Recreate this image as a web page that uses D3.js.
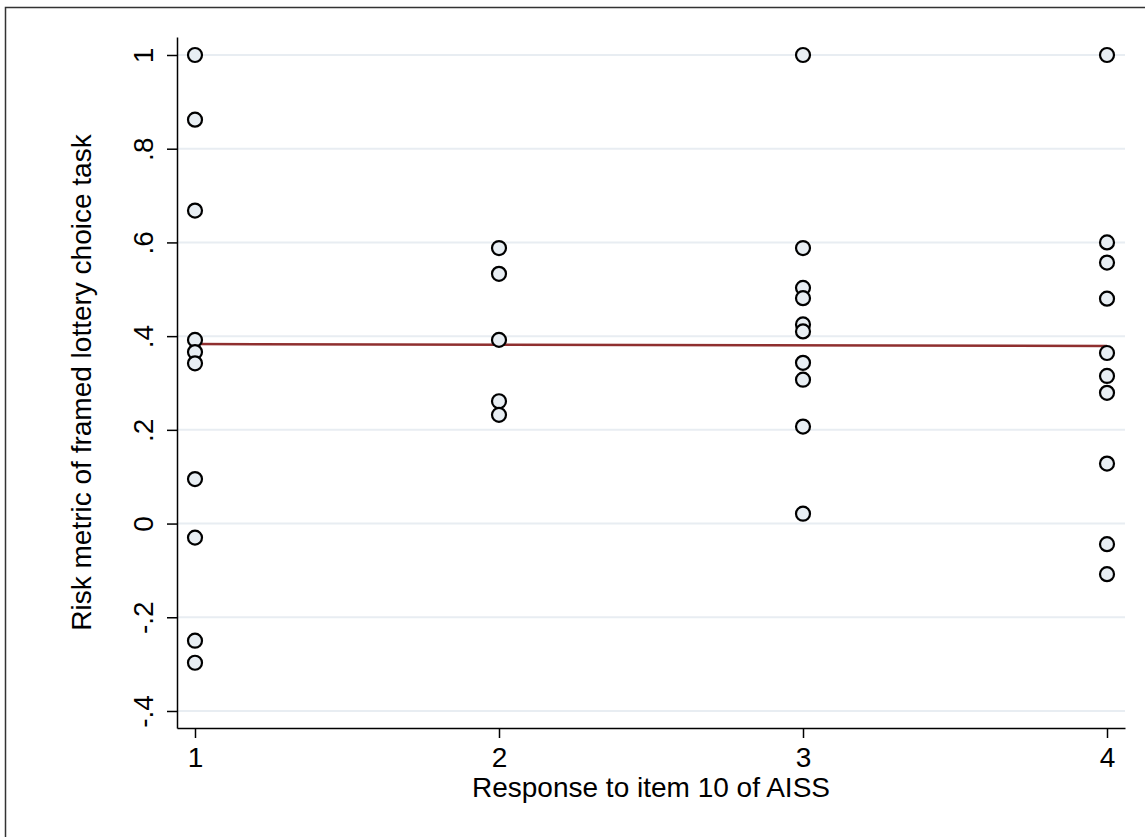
<!DOCTYPE html>
<html lang="en">
<head>
    <meta charset="UTF-8">
    <title>Risk metric vs AISS item 10</title>
    <script src="https://d3js.org/d3.v7.min.js"></script>
    <style>
        body { margin: 0; background: #fff; }
        svg { display: block; font-family: "Liberation Sans", Arial, Helvetica, sans-serif; }
        .tick-label { font-size: 28px; fill: #000; }
        .axis-title { font-size: 28px; fill: #000; }
    </style>
</head>
<body>
<svg id="chart"></svg>
<script>
    // responses (x) and risk metrics (y), one array per answer group
    const responses = [1, 2, 3, 4];
    const group1 = [1.0, 0.862, 0.668, 0.392, 0.366, 0.342, 0.095, -0.030, -0.250, -0.297];
    const group2 = [0.588, 0.533, 0.392, 0.261, 0.232];
    const group3 = [1.0, 0.588, 0.503, 0.481, 0.425, 0.410, 0.343, 0.307, 0.207, 0.021];
    const group4 = [1.0, 0.600, 0.557, 0.480, 0.364, 0.315, 0.279, 0.128, -0.044, -0.108];

    // fitted line end points
    const fitX = [1, 4];
    const fitY = [0.383, 0.379];

    const yTicks = [-0.4, -0.2, 0, 0.2, 0.4, 0.6, 0.8, 1];
    const yTickLabels = ["-.4", "-.2", "0", ".2", ".4", ".6", ".8", "1"];

    const W = 1145, H = 837;
    const svg = d3.select("#chart").attr("width", W).attr("height", H);

    // outer frame (only top/left visible in the reference)
    svg.append("rect")
        .attr("x", 5.5).attr("y", 7.5)
        .attr("width", W + 10).attr("height", H + 10)
        .attr("fill", "none").attr("stroke", "#333").attr("stroke-width", 1.5);

    const x = d3.scaleLinear().domain([0.9408, 4.0592]).range([177, 1125]);
    const y = d3.scaleLinear().domain([-0.4363, 1.0384]).range([728, 37]);

    // grid lines
    svg.append("g")
        .selectAll("line")
        .data(yTicks)
        .join("line")
        .attr("x1", x.range()[0]).attr("x2", x.range()[1])
        .attr("y1", d => y(d)).attr("y2", d => y(d))
        .attr("stroke", "#e8edf2").attr("stroke-width", 2);

    // y axis
    const yAxis = svg.append("g")
        .attr("transform", `translate(${x.range()[0]},0)`)
        .call(d3.axisLeft(y).tickValues(yTicks).tickSize(10).tickSizeOuter(0)
            .tickFormat((d, i) => yTickLabels[i]));
    yAxis.attr("font-size", null).attr("font-family", null);
    yAxis.select(".domain").attr("stroke", "#000").attr("stroke-width", 1.5);
    yAxis.selectAll(".tick line").attr("stroke", "#000").attr("stroke-width", 1.5);
    yAxis.selectAll(".tick text")
        .attr("class", "tick-label")
        .attr("transform", "rotate(-90)")
        .attr("x", 0).attr("y", -24).attr("dy", 0)
        .attr("text-anchor", "middle");

    // x axis
    const xAxis = svg.append("g")
        .attr("transform", `translate(0,${y.range()[0]})`)
        .call(d3.axisBottom(x).tickValues(responses).tickSize(10).tickSizeOuter(0)
            .tickFormat(d3.format("d")));
    xAxis.attr("font-size", null).attr("font-family", null);
    xAxis.select(".domain").attr("stroke", "#000").attr("stroke-width", 1.5);
    xAxis.selectAll(".tick line").attr("stroke", "#000").attr("stroke-width", 1.5);
    xAxis.selectAll(".tick text")
        .attr("class", "tick-label")
        .attr("y", 39).attr("dy", 0)
        .attr("text-anchor", "middle");

    // axis titles
    svg.append("text")
        .attr("class", "axis-title")
        .attr("x", (x.range()[0] + x.range()[1]) / 2)
        .attr("y", 797)
        .attr("text-anchor", "middle")
        .text("Response to item 10 of AISS");

    svg.append("text")
        .attr("class", "axis-title")
        .attr("transform", `translate(91,${(y.range()[0] + y.range()[1]) / 2}) rotate(-90)`)
        .attr("text-anchor", "middle")
        .text("Risk metric of framed lottery choice task");

    // fitted line
    const fit = fitX.map((v, i) => [v, fitY[i]]);
    svg.append("path")
        .datum(fit)
        .attr("d", d3.line().x(d => x(d[0])).y(d => y(d[1])))
        .attr("fill", "none")
        .attr("stroke", "#8f2f2f")
        .attr("stroke-width", 2.5);

    // scatter points
    const groups = [group1, group2, group3, group4];
    const points = groups.flatMap((vals, i) => vals.map(v => ({ resp: responses[i], risk: v })));

    svg.append("g")
        .selectAll("circle")
        .data(points)
        .join("circle")
        .attr("cx", d => x(d.resp))
        .attr("cy", d => y(d.risk))
        .attr("r", 7)
        .attr("fill", "#e8eef3")
        .attr("stroke", "#000")
        .attr("stroke-width", 2.2);
</script>
</body>
</html>
